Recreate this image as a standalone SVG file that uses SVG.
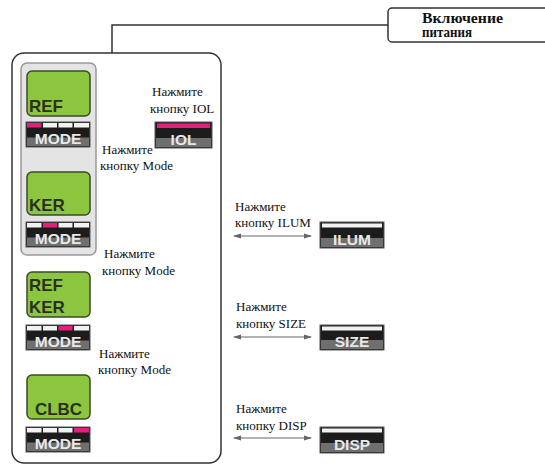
<svg xmlns="http://www.w3.org/2000/svg" width="545" height="466" viewBox="0 0 545 466">
<defs>
<style>
.ru{font-family:"Liberation Serif","DejaVu Serif","Times New Roman",serif;font-size:13px;fill:#111}
.hd{font-family:"Liberation Serif","DejaVu Serif","Times New Roman",serif;font-size:14px;font-weight:bold;fill:#111}
.scr{fill:#8cc63e;stroke:#3a4a2a;stroke-width:1.5}
.st{font-family:"Liberation Sans",Arial,sans-serif;font-weight:bold;font-size:17px;fill:#2b2f22}
.btn{fill:#1c1c1c;stroke:#555;stroke-width:1}
.band{fill:#6f6f6f}
.bt{font-family:"Liberation Sans",Arial,sans-serif;font-weight:bold;font-size:15.5px;fill:#e8e8e8;text-anchor:middle}
.seg{fill:#f2f2f2}
.pk{fill:#e3207c}
.dbl{stroke:#666;stroke-width:1;fill:none;marker-start:url(#ah);marker-end:url(#ah)}
.dn{stroke:#333;stroke-width:1.2;fill:none;marker-end:url(#ad)}
</style>
<marker id="ah" viewBox="0 0 8 6" refX="7" refY="3" markerWidth="8" markerHeight="6" markerUnits="userSpaceOnUse" orient="auto-start-reverse"><path d="M0,0.5 L8,3 L0,5.5 z" fill="#666"/></marker>
<marker id="ad" viewBox="0 0 6 6" refX="5" refY="3" markerWidth="6" markerHeight="6" markerUnits="userSpaceOnUse" orient="auto"><path d="M0,0 L6,3 L0,6 z" fill="#333"/></marker>
</defs>

<g id="connectors">
<path d="M388,25 H112 V53" stroke="#333" stroke-width="1.5" fill="none"/>
<line class="dn" x1="58" y1="148" x2="58" y2="170"/>
<line class="dn" x1="58" y1="256" x2="58" y2="271"/>
<line class="dn" x1="58" y1="351" x2="58" y2="374"/>
<line class="dbl" x1="103" y1="137" x2="148" y2="137"/>
<line class="dbl" x1="234" y1="236" x2="311" y2="236"/>
<line class="dbl" x1="234" y1="337" x2="311" y2="337"/>
<line class="dbl" x1="234" y1="438" x2="311" y2="438"/>
</g>

<g id="power">
<rect x="388" y="8" width="170" height="34" rx="4" fill="#fff" stroke="#333" stroke-width="1.5"/>
<text class="hd" x="422" y="23" textLength="81" lengthAdjust="spacingAndGlyphs">Включение</text>
<text class="hd" x="422" y="37" textLength="50" lengthAdjust="spacingAndGlyphs">питания</text>
</g>

<g id="frame">
<rect x="12" y="53" width="209" height="410" rx="12" fill="#fff" stroke="#333" stroke-width="1.5"/>
<rect x="21" y="63" width="75" height="192" rx="6" fill="#e4e4e4" stroke="#999" stroke-width="1.5"/>
</g>

<g id="ref">
<rect class="scr" x="27" y="71" width="63" height="45" rx="5"/>
<text class="st" x="29" y="112">REF</text>
</g>
<g id="mode1">
<rect class="btn" x="26" y="122" width="64" height="25"/>
<rect class="pk" x="27" y="123" width="14.5" height="4.5"/>
<rect class="seg" x="43" y="123" width="14" height="4.5"/>
<rect class="seg" x="58.5" y="123" width="14" height="4.5"/>
<rect class="seg" x="74" y="123" width="15" height="4.5"/>
<rect class="band" x="27" y="137.5" width="62" height="8.5"/>
<text class="bt" x="58" y="144">MODE</text>
</g>

<g id="ker">
<rect class="scr" x="27" y="172" width="63" height="43" rx="5"/>
<text class="st" x="29" y="211">KER</text>
</g>
<g id="mode2">
<rect class="btn" x="26" y="222" width="64" height="25"/>
<rect class="seg" x="27" y="223" width="14.5" height="4.5"/>
<rect class="pk" x="43" y="223" width="14" height="4.5"/>
<rect class="seg" x="58.5" y="223" width="14" height="4.5"/>
<rect class="seg" x="74" y="223" width="15" height="4.5"/>
<rect class="band" x="27" y="237.5" width="62" height="8.5"/>
<text class="bt" x="58" y="244">MODE</text>
</g>

<g id="refker">
<rect class="scr" x="27" y="272" width="63" height="45" rx="5"/>
<text class="st" x="29" y="291">REF</text>
<text class="st" x="29" y="313">KER</text>
</g>
<g id="mode3">
<rect class="btn" x="26" y="325" width="64" height="25"/>
<rect class="seg" x="27" y="326" width="14.5" height="4.5"/>
<rect class="seg" x="43" y="326" width="14" height="4.5"/>
<rect class="pk" x="58.5" y="326" width="14" height="4.5"/>
<rect class="seg" x="74" y="326" width="15" height="4.5"/>
<rect class="band" x="27" y="340.5" width="62" height="8.5"/>
<text class="bt" x="58" y="347">MODE</text>
</g>

<g id="clbc">
<rect class="scr" x="27" y="375" width="63" height="44" rx="5"/>
<text class="st" x="58.5" y="415" text-anchor="middle">CLBC</text>
</g>
<g id="mode4">
<rect class="btn" x="26" y="427" width="64" height="25"/>
<rect class="seg" x="27" y="428" width="14.5" height="4.5"/>
<rect class="seg" x="43" y="428" width="14" height="4.5"/>
<rect class="seg" x="58.5" y="428" width="14" height="4.5"/>
<rect class="pk" x="74" y="428" width="15" height="4.5"/>
<rect class="band" x="27" y="442.5" width="62" height="8.5"/>
<text class="bt" x="58" y="449">MODE</text>
</g>

<g id="iol">
<rect class="btn" x="155" y="122" width="57" height="26"/>
<rect class="pk" x="157" y="123.5" width="53" height="4.5"/>
<rect class="band" x="156" y="138" width="55" height="9"/>
<text class="bt" x="183.5" y="145">IOL</text>
<text class="ru" x="152" y="96">Нажмите</text>
<text class="ru" x="150" y="113">кнопку IOL</text>
</g>
<g id="lbl-mode1">
<text class="ru" x="102" y="154">Нажмите</text>
<text class="ru" x="100" y="170">кнопку Mode</text>
</g>
<g id="lbl-mode2">
<text class="ru" x="104" y="258">Нажмите</text>
<text class="ru" x="102" y="275">кнопку Mode</text>
</g>
<g id="lbl-mode3">
<text class="ru" x="99" y="358">Нажмите</text>
<text class="ru" x="98" y="374">кнопку Mode</text>
</g>

<g id="ilum">
<rect class="btn" x="320" y="222" width="64" height="26"/>
<rect class="seg" x="322" y="223.5" width="60" height="4"/>
<rect class="band" x="321" y="238" width="62" height="9"/>
<text class="bt" x="352" y="245">ILUM</text>
<text class="ru" x="235" y="211">Нажмите</text>
<text class="ru" x="235" y="227">кнопку ILUM</text>
</g>
<g id="size">
<rect class="btn" x="320" y="325" width="64" height="25"/>
<rect class="seg" x="322" y="326.5" width="60" height="4"/>
<rect class="band" x="321" y="340" width="62" height="9"/>
<text class="bt" x="352" y="347">SIZE</text>
<text class="ru" x="236" y="311">Нажмите</text>
<text class="ru" x="236" y="328">кнопку SIZE</text>
</g>
<g id="disp">
<rect class="btn" x="320" y="427" width="64" height="26"/>
<rect class="seg" x="322" y="428.5" width="60" height="4"/>
<rect class="band" x="321" y="443" width="62" height="9"/>
<text class="bt" x="352" y="450">DISP</text>
<text class="ru" x="236" y="413">Нажмите</text>
<text class="ru" x="236" y="430">кнопку DISP</text>
</g>
</svg>
